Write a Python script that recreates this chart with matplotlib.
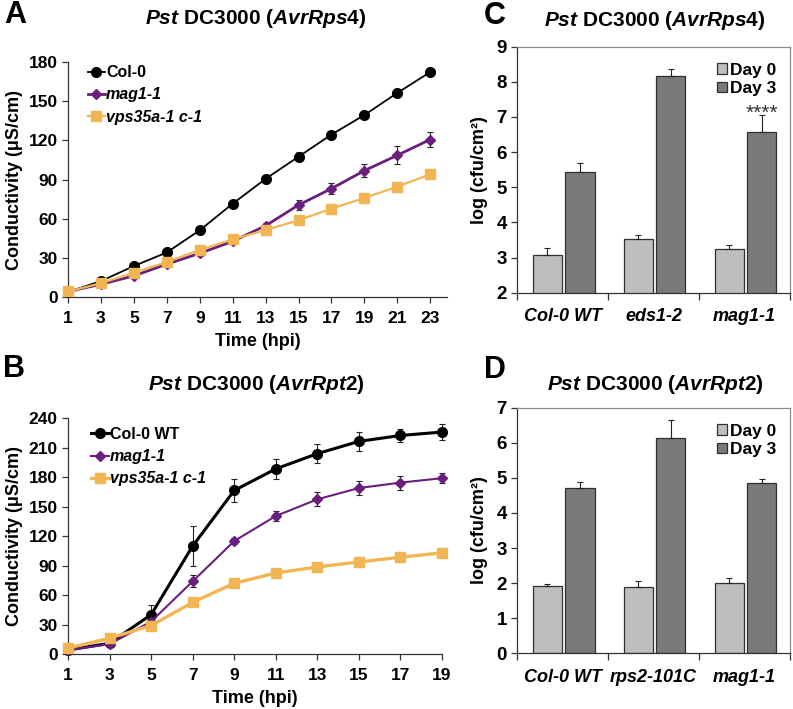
import matplotlib
matplotlib.use("Agg")
import matplotlib.pyplot as plt
import numpy as np

plt.rcParams['font.family'] = ['Liberation Sans', 'DejaVu Sans']
plt.rcParams['mathtext.fontset'] = 'custom'
plt.rcParams['mathtext.it'] = 'Liberation Sans:italic:bold'
plt.rcParams['mathtext.bf'] = 'Liberation Sans:bold'
plt.rcParams['mathtext.rm'] = 'Liberation Sans:bold'

# ---------------- data ----------------
hpi_a = [1, 3, 5, 7, 9, 11, 13, 15, 17, 19, 21, 23]
a_col0 = [3.6, 12, 23.5, 34, 51, 71.4, 90.5, 107.5, 124.5, 139.5, 156.5, 172.5]
a_col0_err = [1, 1, 1.5, 1.5, 2, 2, 3, 3.5, 2, 2, 1.5, 1.5]
a_mag = [4, 9.5, 16, 25, 33.3, 42.5, 54.5, 70.4, 83, 96.8, 108.6, 120.7]
a_mag_err = [1, 1, 1.5, 1.5, 2, 1.5, 2, 4, 4.5, 5, 7, 6]
a_vps = [4, 10.3, 18.4, 26.6, 35.9, 44, 51.2, 58.7, 67.6, 75.8, 84.5, 94]
a_vps_err = [1, 1, 1, 1, 1, 1, 1, 1, 1, 1, 1, 1]

hpi_b = [1, 3, 5, 7, 9, 11, 13, 15, 17, 19]
b_col0 = [4, 11, 40, 110, 166.5, 188.5, 204, 216.5, 222.5, 226]
b_col0_err = [1, 2, 10, 20, 12, 10, 10, 10, 7, 8]
b_mag = [4, 10, 33, 74, 115, 140.5, 157.5, 169, 174.5, 179]
b_mag_err = [1, 1.5, 3, 6, 3, 5, 7, 7, 7, 5]
b_vps = [6, 16, 29, 52.6, 72, 82.5, 88.6, 93.7, 98.5, 103]
b_vps_err = [1, 1, 2, 2, 2, 2, 4, 2, 2, 2]

line_labels_a = ['Col-0', 'mag1-1', 'vps35a-1 c-1']
line_labels_b = ['Col-0 WT', 'mag1-1', 'vps35a-1 c-1']

cats_c = ['Col-0 WT', 'eds1-2', 'mag1-1']
c_day0 = [3.07, 3.54, 3.23]
c_day0_err = [0.2, 0.1, 0.12]
c_day3 = [5.43, 8.18, 6.58]
c_day3_err = [0.25, 0.18, 0.49]

cats_d = ['Col-0 WT', 'rps2-101C', 'mag1-1']
d_day0 = [1.93, 1.88, 2.0]
d_day0_err = [0.05, 0.18, 0.15]
d_day3 = [4.70, 6.15, 4.86]
d_day3_err = [0.19, 0.5, 0.1]

bar_labels = ['Day 0', 'Day 3']

# ---------------- styles ----------------
C_BLACK = '#000000'
C_PURPLE = '#6B1F7C'
C_ORANGE = '#F1B553'
C_DAY0 = '#BEBEBE'
C_DAY3 = '#7A7A7A'

fig = plt.figure(figsize=(7.93, 7.09), dpi=100)

def px_axes(l, t, r, b):
    W, H = 793.0, 709.0
    return fig.add_axes([l / W, 1 - b / H, (r - l) / W, (b - t) / H])

def style_line_ax(ax):
    for s in ['top', 'right']:
        ax.spines[s].set_visible(False)
    for s in ['left', 'bottom']:
        ax.spines[s].set_color('#333333')
        ax.spines[s].set_linewidth(0.9)
    ax.tick_params(axis='both', direction='out', length=4, width=0.9,
                   color='#333333', labelsize=12.5)
    ax.tick_params(axis='x', pad=6)
    for lab in ax.get_xticklabels() + ax.get_yticklabels():
        lab.set_fontweight('bold')

def title_text(name):
    return r'$\mathit{Pst}$ DC3000 ($\mathit{' + name + '}$)'

def line_panel(ax, x, series, labels, xlim, ylim, yticks, widths, legend_anchor):
    colors = [C_BLACK, C_PURPLE, C_ORANGE]
    markers = ['o', 'D', 's']
    msizes = [7, 5, 7]
    for (y, e), lab, c, m, ms, lw in zip(series, labels, colors, markers, msizes, widths):
        ax.errorbar(x, y, yerr=e, color=c, marker=m, markersize=ms, lw=lw,
                    ecolor='#222222', elinewidth=0.8, capsize=2.5, capthick=0.8,
                    label=lab, clip_on=False, zorder=3)
    ax.set_xlim(*xlim)
    ax.set_ylim(*ylim)
    ax.set_xticks(x)
    ax.set_yticks(yticks)
    ax.set_xlabel('Time (hpi)', fontsize=13, fontweight='bold', labelpad=5)
    ax.set_ylabel('Conductivity (μS/cm)', fontsize=13, fontweight='bold', labelpad=4)
    style_line_ax(ax)
    handles, labs = ax.get_legend_handles_labels()
    handles = [h[0] if hasattr(h, '__getitem__') else h for h in handles]
    leg = ax.legend(handles, labs, loc='upper left', frameon=False, fontsize=11.5,
                    handlelength=1.1, handletextpad=0.05, labelspacing=0.45,
                    borderaxespad=0.0, bbox_to_anchor=legend_anchor)
    for t in leg.get_texts():
        t.set_fontweight('bold')
    for t in leg.get_texts()[1:]:
        t.set_style('italic')

# Panel A
axA = px_axes(68, 62.3, 446.7, 296.7)
line_panel(axA, hpi_a,
           [(a_col0, a_col0_err), (a_mag, a_mag_err), (a_vps, a_vps_err)],
           line_labels_a, (1, 24), (0, 180), np.arange(0, 181, 30),
           [1.3, 2.0, 1.6], (0.035, 1.015))

# Panel B
axB = px_axes(68, 418.3, 442, 654)
line_panel(axB, hpi_b,
           [(b_col0, b_col0_err), (b_mag, b_mag_err), (b_vps, b_vps_err)],
           line_labels_b, (1, 19), (0, 240), np.arange(0, 241, 30),
           [2.2, 1.5, 2.4], (0.045, 0.99))

def bar_panel(ax, cats, d0, e0, d3, e3, ylim, yticks):
    x = np.arange(len(cats))
    w = 0.32
    ax.bar(x - 0.17, d0, w, color=C_DAY0,
           edgecolor='#303030', linewidth=0.9, label=bar_labels[0], zorder=2)
    ax.bar(x + 0.19, d3, w, color=C_DAY3, edgecolor='#303030', linewidth=0.9,
           label=bar_labels[1], zorder=2)
    ax.errorbar(x - 0.17, d0, yerr=[np.zeros(len(d0)), e0], fmt='none',
                ecolor='#222222', elinewidth=0.8, capsize=2.5, capthick=0.8, zorder=3)
    ax.errorbar(x + 0.19, d3, yerr=[np.zeros(len(d3)), e3], fmt='none',
                ecolor='#222222', elinewidth=0.8, capsize=2.5, capthick=0.8, zorder=3)
    ax.set_xlim(-0.5, len(cats) - 0.5)
    ax.set_ylim(*ylim)
    ax.set_yticks(yticks)
    ax.set_xticks(np.arange(len(cats) + 1) - 0.5)
    ax.set_xticklabels([])
    ax.set_xticks(x, minor=True)
    ax.set_xticklabels(cats, minor=True, fontsize=13, fontweight='bold', style='italic')
    ax.tick_params(axis='x', which='minor', length=0, pad=11)
    ax.tick_params(axis='x', which='major', direction='out', length=5, width=0.9, color='#333333')
    ax.tick_params(axis='y', direction='out', length=4, width=0.9, color='#333333', labelsize=13.5)
    for lab in ax.get_yticklabels():
        lab.set_fontweight('bold')
    ax.spines['left'].set_color('#333333')
    ax.spines['bottom'].set_color('#333333')
    ax.spines['top'].set_color('#8C8C8C')
    ax.spines['right'].set_color('#8C8C8C')
    for s in ax.spines.values():
        s.set_linewidth(0.9)
    ax.set_ylabel('log (cfu/cm²)', fontsize=13, fontweight='bold', labelpad=6)
    leg = ax.legend(loc='upper right', frameon=False, fontsize=12.5,
                    handlelength=0.55, handleheight=0.55, handletextpad=0.2,
                    labelspacing=0.2, borderaxespad=0.3, bbox_to_anchor=(0.995, 0.985))
    for t in leg.get_texts():
        t.set_fontweight('bold')
    return x

axC = px_axes(517.3, 46.7, 790, 292.7)
xc = bar_panel(axC, cats_c, c_day0, c_day0_err, c_day3, c_day3_err, (2, 9), np.arange(2, 10, 1))
axC.text(xc[2] + 0.19, c_day3[2] + c_day3_err[2] - 0.12, '****', ha='center', va='baseline',
         fontsize=15, color='#333333')

axD = px_axes(517.3, 407.7, 790, 653.3)
bar_panel(axD, cats_d, d_day0, d_day0_err, d_day3, d_day3_err, (0, 7), np.arange(0, 8, 1))

# titles and panel letters (figure coordinates in pixels)
def ftext(xp, yp, s, **kw):
    fig.text(xp / 793.0, 1 - yp / 709.0, s, ha='center', va='center', **kw)

ftext(256, 19, title_text('AvrRps4'), fontsize=15, fontweight='bold')
ftext(655, 20, title_text('AvrRps4'), fontsize=15, fontweight='bold')
ftext(256, 384, title_text('AvrRpt2'), fontsize=15, fontweight='bold')
ftext(655, 384, title_text('AvrRpt2'), fontsize=15, fontweight='bold')

ftext(15, 15, 'A', fontsize=22, fontweight='bold')
ftext(495, 16, 'C', fontsize=22, fontweight='bold')
ftext(14, 369, 'B', fontsize=22, fontweight='bold')
ftext(495, 370, 'D', fontsize=22, fontweight='bold')

fig.savefig('out.png', dpi=100)
